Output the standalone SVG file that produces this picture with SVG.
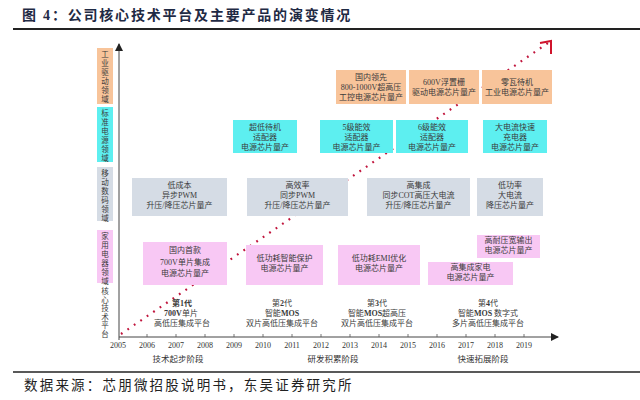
<svg xmlns="http://www.w3.org/2000/svg" width="640" height="400" viewBox="0 0 640 400">
<style>
.t{font-family:"Liberation Serif","Noto Sans CJK SC",serif;font-size:8px;fill:#3a3a3a;text-anchor:middle}
.lab{font-family:"Liberation Serif","Noto Sans CJK SC",serif;font-size:7.5px;fill:#3a3a3a;text-anchor:middle}
.yr{font-family:"Liberation Serif","Noto Sans CJK SC",serif;font-size:8px;fill:#333;text-anchor:middle}
.ph{font-family:"Liberation Serif","Noto Sans CJK SC",serif;font-size:8.5px;fill:#333;text-anchor:middle}
.or{fill:#F8C49A}
.cy{fill:#5DEFF0}
.gr{fill:#D5DCE5}
.pk{fill:#F8C8F4}
.b{font-weight:bold}
</style>
<defs>
<marker id="ah" markerWidth="8" markerHeight="8" refX="7" refY="4" orient="auto" markerUnits="userSpaceOnUse">
<path d="M0,0 L8,4 L0,8 Z" fill="#222"/>
</marker>
</defs>
<rect width="640" height="400" fill="#fff"/>
<text x="22" y="20" font-family="Liberation Serif,'Noto Sans CJK SC',serif" font-size="14" font-weight="bold" fill="#1F2A44" letter-spacing="1.8">图 4：公司核心技术平台及主要产品的演变情况</text>
<line x1="13" y1="29" x2="640" y2="29" stroke="#222" stroke-width="2"/>

<g id="connectors">
<line x1="119" y1="340" x2="119" y2="44" stroke="#444" stroke-width="1" marker-end="url(#ah)"/>
<line x1="119" y1="337" x2="558" y2="337" stroke="#444" stroke-width="1" marker-end="url(#ah)"/>
<g stroke="#555" stroke-width="0.8">
<line x1="147" y1="334" x2="147" y2="337"/><line x1="176" y1="334" x2="176" y2="337"/><line x1="205" y1="334" x2="205" y2="337"/><line x1="234" y1="334" x2="234" y2="337"/><line x1="263" y1="334" x2="263" y2="337"/><line x1="292" y1="334" x2="292" y2="337"/><line x1="321" y1="334" x2="321" y2="337"/><line x1="350" y1="334" x2="350" y2="337"/><line x1="379" y1="334" x2="379" y2="337"/><line x1="408" y1="334" x2="408" y2="337"/><line x1="437" y1="334" x2="437" y2="337"/><line x1="466" y1="334" x2="466" y2="337"/><line x1="495" y1="334" x2="495" y2="337"/><line x1="524" y1="334" x2="524" y2="337"/>
</g>
<line x1="121" y1="334" x2="548" y2="43" stroke="#C0143C" stroke-width="2.2" stroke-dasharray="1.8 6" stroke-linecap="butt"/>
<polyline points="540,43 551,41 551,54" fill="none" stroke="#D0142C" stroke-width="2"/>
</g>

<g id="axis-labels">
<g id="cat-industrial"><rect class="or" x="97" y="48" width="16" height="56"/>
<text class="lab"><tspan x="105" y="57">工</tspan><tspan x="105" y="66">业</tspan><tspan x="105" y="75">驱</tspan><tspan x="105" y="84">动</tspan><tspan x="105" y="93">领</tspan><tspan x="105" y="102">域</tspan></text></g>
<g id="cat-power"><rect class="cy" x="97" y="107" width="16" height="55"/>
<text class="lab"><tspan x="105" y="116">标</tspan><tspan x="105" y="125">准</tspan><tspan x="105" y="134">电</tspan><tspan x="105" y="143">源</tspan><tspan x="105" y="152">领</tspan><tspan x="105" y="161">域</tspan></text></g>
<g id="cat-mobile"><rect class="gr" x="97" y="167" width="16" height="54"/>
<text class="lab"><tspan x="105" y="176">移</tspan><tspan x="105" y="185">动</tspan><tspan x="105" y="194">数</tspan><tspan x="105" y="203">码</tspan><tspan x="105" y="212">领</tspan><tspan x="105" y="221">域</tspan></text></g>
<g id="cat-home"><rect class="pk" x="97" y="230" width="16" height="53"/>
<text class="lab"><tspan x="105" y="239">家</tspan><tspan x="105" y="248">用</tspan><tspan x="105" y="257">电</tspan><tspan x="105" y="266">器</tspan><tspan x="105" y="275">领</tspan><tspan x="105" y="284">域</tspan></text></g>
<g id="cat-core">
<text class="lab"><tspan x="105" y="294">核</tspan><tspan x="105" y="302.5">心</tspan><tspan x="105" y="311">技</tspan><tspan x="105" y="319.5">术</tspan><tspan x="105" y="328">平</tspan><tspan x="105" y="336.5">台</tspan></text></g>
</g>

<g id="ind1"><rect class="or" x="336" y="70" width="70" height="34"/><text class="t"><tspan x="371" y="80">国内领先</tspan><tspan x="371" y="90">800-1000V超高压</tspan><tspan x="371" y="100">工控电源芯片量产</tspan></text></g>
<g id="ind2"><rect class="or" x="409" y="70" width="70" height="34"/><text class="t"><tspan x="444" y="85">600V浮置栅</tspan><tspan x="444" y="95">驱动电源芯片量产</tspan></text></g>
<g id="ind3"><rect class="or" x="482" y="70" width="70" height="34"/><text class="t"><tspan x="517" y="85">零瓦待机</tspan><tspan x="517" y="95">工业电源芯片量产</tspan></text></g>

<g id="pw1"><rect class="cy" x="233" y="120" width="64" height="33"/><text class="t"><tspan x="265" y="130">超低待机</tspan><tspan x="265" y="140">适配器</tspan><tspan x="265" y="150">电源芯片量产</tspan></text></g>
<g id="pw2"><rect class="cy" x="320" y="120" width="73" height="33"/><text class="t"><tspan x="356.5" y="130">5级能效</tspan><tspan x="356.5" y="140">适配器</tspan><tspan x="356.5" y="150">电源芯片量产</tspan></text></g>
<g id="pw3"><rect class="cy" x="396" y="120" width="72" height="33"/><text class="t"><tspan x="432" y="130">6级能效</tspan><tspan x="432" y="140">适配器</tspan><tspan x="432" y="150">电源芯片量产</tspan></text></g>
<g id="pw4"><rect class="cy" x="483" y="120" width="64" height="33"/><text class="t"><tspan x="515" y="130">大电流快速</tspan><tspan x="515" y="140">充电器</tspan><tspan x="515" y="150">电源芯片量产</tspan></text></g>

<g id="mb1"><rect class="gr" x="132" y="178" width="95" height="38"/><text class="t"><tspan x="179.5" y="188">低成本</tspan><tspan x="179.5" y="198">异步PWM</tspan><tspan x="179.5" y="208">升压/降压芯片量产</tspan></text></g>
<g id="mb2"><rect class="gr" x="247" y="178" width="101" height="38"/><text class="t"><tspan x="297.5" y="188">高效率</tspan><tspan x="297.5" y="198">同步PWM</tspan><tspan x="297.5" y="208">升压/降压芯片量产</tspan></text></g>
<g id="mb3"><rect class="gr" x="367" y="178" width="103" height="38"/><text class="t"><tspan x="418.5" y="188">高集成</tspan><tspan x="418.5" y="198">同步COT高压大电流</tspan><tspan x="418.5" y="208">升压/降压芯片量产</tspan></text></g>
<g id="mb4"><rect class="gr" x="477" y="178" width="66" height="38"/><text class="t"><tspan x="510" y="188">低功率</tspan><tspan x="510" y="198">大电流</tspan><tspan x="510" y="208">降压芯片量产</tspan></text></g>

<g id="hm1"><rect class="pk" x="143" y="242" width="84" height="43"/><text class="t"><tspan x="185" y="253">国内首款</tspan><tspan x="185" y="265">700V单片集成</tspan><tspan x="185" y="276">电源芯片量产</tspan></text></g>
<g id="hm2"><rect class="pk" x="246" y="245" width="77" height="40"/><text class="t"><tspan x="284.5" y="261">低功耗智能保护</tspan><tspan x="284.5" y="271">电源芯片量产</tspan></text></g>
<g id="hm3"><rect class="pk" x="338" y="245" width="82" height="40"/><text class="t"><tspan x="379" y="261">低功耗EMI优化</tspan><tspan x="379" y="271">电源芯片量产</tspan></text></g>
<g id="hm4"><rect class="pk" x="428" y="262" width="85" height="23"/><text class="t"><tspan x="470.5" y="270">高集成家电</tspan><tspan x="470.5" y="280">电源芯片量产</tspan></text></g>
<g id="hm5"><rect class="pk" x="477" y="235" width="63" height="23"/><text class="t"><tspan x="508.5" y="243">高耐压宽输出</tspan><tspan x="508.5" y="253">电源芯片量产</tspan></text></g>

<g id="core1"><text class="t"><tspan x="182" y="306"><tspan class="b">第1代</tspan></tspan><tspan x="181" y="316"><tspan class="b">700V</tspan>单片</tspan><tspan x="182" y="326">高低压集成平台</tspan></text></g>
<g id="core2"><text class="t"><tspan x="282" y="306">第<tspan class="b">2</tspan>代</tspan><tspan x="282" y="316">智能<tspan class="b">MOS</tspan></tspan><tspan x="282" y="326">双片高低压集成平台</tspan></text></g>
<g id="core3"><text class="t"><tspan x="377" y="306">第<tspan class="b">3</tspan>代</tspan><tspan x="377" y="316">智能<tspan class="b">MOS</tspan>超高压</tspan><tspan x="377" y="326">双片高低压集成平台</tspan></text></g>
<g id="core4"><text class="t"><tspan x="488" y="306">第<tspan class="b">4</tspan>代</tspan><tspan x="488" y="316">智能<tspan class="b">MOS</tspan> 数字式</tspan><tspan x="488" y="326">多片高低压集成平台</tspan></text></g>

<g id="years">
<text class="yr" x="118" y="348">2005</text><text class="yr" x="147" y="348">2006</text><text class="yr" x="176" y="348">2007</text><text class="yr" x="205" y="348">2008</text><text class="yr" x="234" y="348">2009</text><text class="yr" x="263" y="348">2010</text><text class="yr" x="292" y="348">2011</text><text class="yr" x="321" y="348">2012</text><text class="yr" x="350" y="348">2013</text><text class="yr" x="379" y="348">2014</text><text class="yr" x="408" y="348">2015</text><text class="yr" x="437" y="348">2016</text><text class="yr" x="466" y="348">2017</text><text class="yr" x="495" y="348">2018</text><text class="yr" x="524" y="348">2019</text>
<text class="ph" x="178" y="362">技术起步阶段</text><text class="ph" x="333" y="362">研发积累阶段</text><text class="ph" x="483" y="362">快速拓展阶段</text>
</g>

<line x1="13" y1="372" x2="640" y2="372" stroke="#222" stroke-width="1.5"/>
<text x="24" y="390" font-family="Liberation Serif,'Noto Sans CJK SC',serif" font-size="13.5" fill="#222" letter-spacing="2.2">数据来源：芯朋微招股说明书，东吴证券研究所</text>
</svg>
